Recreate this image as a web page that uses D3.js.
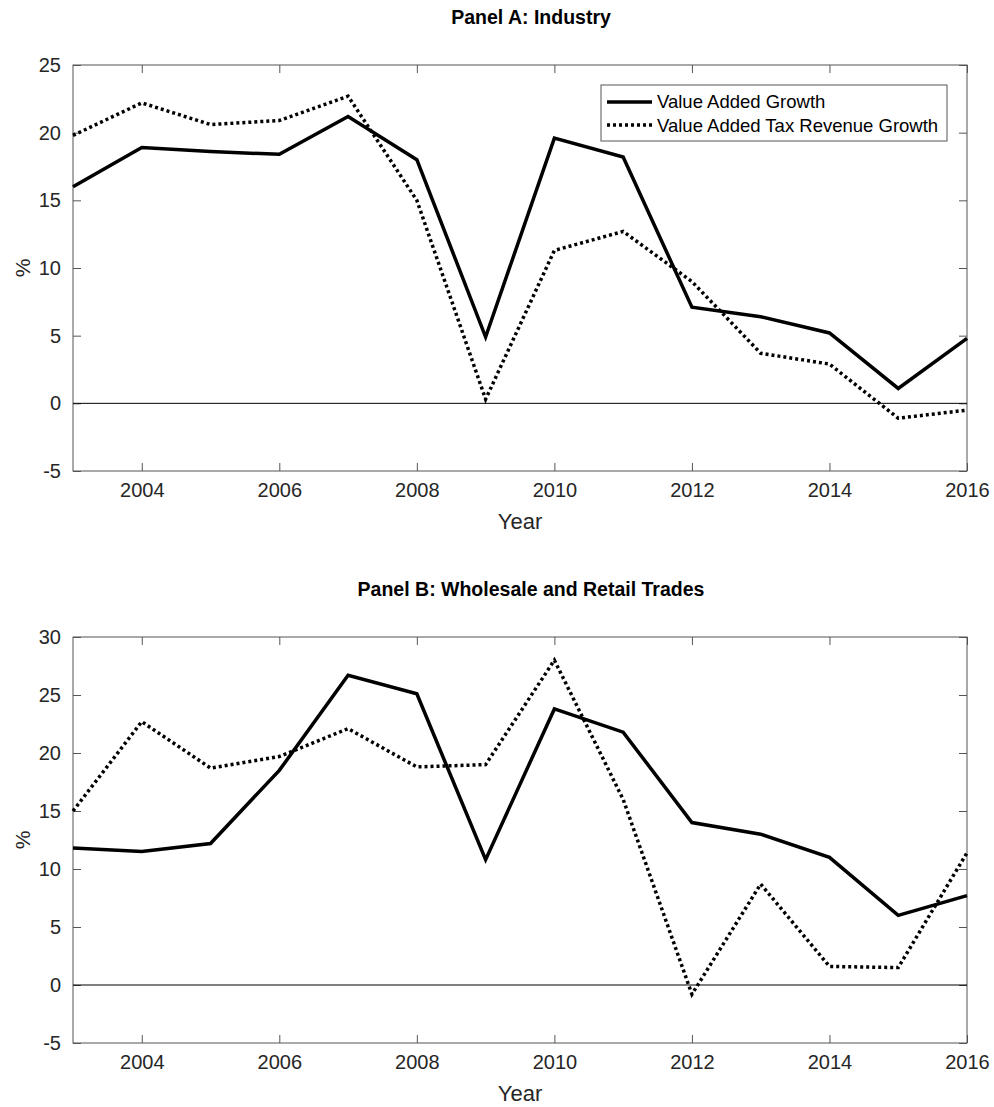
<!DOCTYPE html>
<html><head><meta charset="utf-8">
<script src="https://cdn.jsdelivr.net/npm/d3@7"></script>
<style>body{margin:0;background:#fff}text{font-family:Arial,"Liberation Sans",sans-serif}</style>
</head><body>
<svg width="994" height="1107"></svg>
<script>
var years = [2003,2004,2005,2006,2007,2008,2009,2010,2011,2012,2013,2014,2015,2016];
var industryVA = [16,18.9,18.6,18.4,21.2,18,4.9,19.6,18.2,7.1,6.4,5.2,1.1,4.8];
var industryVAT = [19.8,22.2,20.6,20.9,22.7,15,0.3,11.3,12.7,9,3.7,2.9,-1.1,-0.5];
var tradeVA = [11.8,11.5,12.2,18.5,26.7,25.1,10.8,23.8,21.8,14,13,11,6,7.7];
var tradeVAT = [15,22.7,18.7,19.7,22.1,18.8,19,28,16,-0.8,8.7,1.6,1.5,11.4];
var xTicks = [2004,2006,2008,2010,2012,2014,2016];

var svg = d3.select('svg');
var x = d3.scaleLinear().domain([2003,2016]).range([73,967]);
var fmtY = function(d){ return String(d); };

function panel(title, top, bottom, yMax, va, vat, legend) {
  var y = d3.scaleLinear().domain([-5,yMax]).range([bottom,top]);
  var g = svg.append('g');
  g.append('text').attr('x',531).attr('y',top-41).attr('text-anchor','middle')
    .attr('font-size',19.5).attr('font-weight','bold').text(title);
  var yt = d3.range(-5,yMax+1,5);
  function style(a){a.select('.domain').remove();a.selectAll('text').style('font-size','20px').attr('fill','#262626');a.selectAll('line').attr('stroke','#555');}
  g.append('g').attr('transform','translate(73,0)')
    .call(d3.axisLeft(y).tickValues(yt).tickSize(-8).tickPadding(12).tickFormat(fmtY)).call(style);
  g.append('g').attr('transform','translate(967,0)')
    .call(d3.axisRight(y).tickValues(yt).tickSize(-8).tickFormat('')).call(style);
  g.append('g').attr('transform','translate(0,'+bottom+')')
    .call(d3.axisBottom(x).tickValues(xTicks).tickSize(-8).tickPadding(12).tickFormat(d3.format('d'))).call(style);
  g.append('g').attr('transform','translate(0,'+top+')')
    .call(d3.axisTop(x).tickValues(xTicks).tickSize(-8).tickFormat('')).call(style);
  g.append('rect').attr('x',73).attr('y',top).attr('width',894).attr('height',bottom-top)
    .attr('fill','none').attr('stroke','#555').attr('stroke-width',1);
  g.append('text').attr('x',520).attr('y',bottom+58).attr('text-anchor','middle').attr('font-size',22).attr('fill','#262626').text('Year');
  g.append('text').attr('transform','translate(30,'+((top+bottom)/2)+') rotate(-90)').attr('text-anchor','middle').attr('font-size',21).attr('fill','#262626').text('%');
  g.append('line').attr('x1',73).attr('x2',967).attr('y1',y(0)).attr('y2',y(0)).attr('stroke','#000').attr('stroke-width',1);
  var line = d3.line().x(function(d,i){return x(years[i]);}).y(function(d){return y(d);});
  g.append('path').datum(vat).attr('d',line).attr('fill','none').attr('stroke','#000').attr('stroke-width',3.5).attr('stroke-dasharray','3,3');
  g.append('path').datum(va).attr('d',line).attr('fill','none').attr('stroke','#000').attr('stroke-width',3.5);
  if (legend) {
    var l = g.append('g').attr('transform','translate(601,85)');
    l.append('rect').attr('width',346).attr('height',56).attr('fill','#fff').attr('stroke','#555');
    l.append('line').attr('x1',6).attr('x2',51).attr('y1',17).attr('y2',17).attr('stroke','#000').attr('stroke-width',3.5);
    l.append('line').attr('x1',6).attr('x2',51).attr('y1',40).attr('y2',40).attr('stroke','#000').attr('stroke-width',3.5).attr('stroke-dasharray','3,3');
    l.append('text').attr('x',56).attr('y',23).attr('font-size',18.5).text('Value Added Growth');
    l.append('text').attr('x',56).attr('y',47).attr('font-size',18.5).text('Value Added Tax Revenue Growth');
  }
}
panel('Panel A: Industry',65,471,25,industryVA,industryVAT,true);
panel('Panel B: Wholesale and Retail Trades',637,1043,30,tradeVA,tradeVAT,false);
</script>
</body></html>
